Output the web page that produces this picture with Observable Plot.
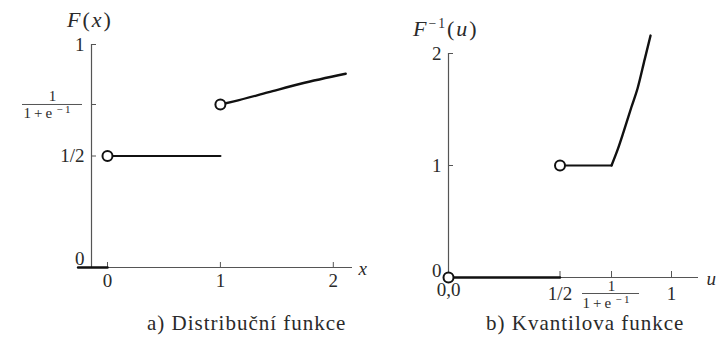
<!DOCTYPE html>
<html>
<head>
<meta charset="utf-8">
<script src="https://cdn.jsdelivr.net/npm/d3@7"></script>
<script src="https://cdn.jsdelivr.net/npm/@observablehq/plot@0.6"></script>
<style>
  body { margin: 0; background: #fff; }
  #fig { position: relative; width: 725px; height: 344px; font-family: "Liberation Serif", serif; color: #2a2a2a; overflow: hidden; }
  #fig svg { position: absolute; top: 0; }
  .lbl { position: absolute; white-space: nowrap; line-height: 1; }
  .lbl i { font-style: italic; }
  .lbl sup { font-size: 0.62em; vertical-align: 0.6em; line-height: 0; }
</style>
</head>
<body>
<div id="fig"></div>
<script>
// ---- a) distribution function F(x) ----
const cdfZeroX = [-0.26, 0];           // F = 0 left of 0
const cdfZeroY = [0, 0];
const cdfFlatX = [0, 1];               // F = 1/2 on [0, 1)
const cdfFlatY = [0.5, 0.5];
const cdfCurveX = [1, 1.12, 1.42, 1.71, 2.11];
const cdfCurveY = [0.731, 0.745, 0.785, 0.824, 0.869];
const cdfOpenX = [0, 1];
const cdfOpenY = [0.5, 0.731];
const cdfXTicks = [0, 1, 2];
const cdfXTickLabels = ["0", "1", "2"];
const cdfYTicks = [0.5, 1];
const cdfYTickLabels = ["1/2", "1"];
const cdfYTickFrac = [0.731];          // 1/(1+e^-1)

// ---- b) quantile function F^-1(u) ----
const qZeroX = [0, 0.5];               // F^-1 = 0 on (0, 1/2)
const qZeroY = [0, 0];
const qFlatX = [0.5, 0.731];           // F^-1 = 1 on (1/2, 1/(1+e^-1)]
const qFlatY = [1, 1];
const qCurveX = [0.731, 0.76, 0.785, 0.82, 0.848, 0.88, 0.906];
const qCurveY = [1, 1.15, 1.30, 1.52, 1.69, 1.95, 2.16];
const qOpenX = [0, 0.5];
const qOpenY = [0, 1];
const qXTicks = [0.5, 1];
const qXTickLabels = ["1/2", "1"];
const qXTickFrac = [0.731];
const qYTicks = [1, 2];
const qYTickLabels = ["1", "2"];

const fracDen = "1\u2009+\u2009e";     // denominator base, exponent drawn separately
const fracExp = "\u2212\u20091";

const ink = "#111";
const axisInk = "#555";
const textInk = "#2a2a2a";
const serif = "Liberation Serif, serif";
const tickFont = 19;
const fracFont = 15;

const fig = document.getElementById("fig");

function label(html, left, top, size, extra = "") {
  const d = document.createElement("div");
  d.className = "lbl";
  d.style.left = left + "px";
  d.style.top = top + "px";
  d.style.fontSize = size + "px";
  d.style.cssText += extra;
  d.innerHTML = html;
  fig.appendChild(d);
  return d;
}

const txt = (o) => ({fill: textInk, fontFamily: serif, fontSize: tickFont, ...o});

// Left panel: the y axis sits a little left of x = 0
const cdfYAxisAt = -0.1416;
const cdfXAxisEnd = 2.17;

const cdf = Plot.plot({
  width: 380,
  height: 344,
  marginLeft: 91, marginRight: 28, marginTop: 44, marginBottom: 77,
  x: {axis: null, domain: [cdfYAxisAt, cdfXAxisEnd], range: [91, 352]},
  y: {axis: null, domain: [0, 1], range: [267, 44]},
  style: {fontFamily: serif, color: textInk, background: "transparent"},
  marks: [
    // axes
    Plot.ruleY([0], {x1: cdfZeroX[0], x2: cdfXAxisEnd, stroke: axisInk, strokeWidth: 1.2}),
    Plot.ruleX([cdfYAxisAt], {y1: 0, y2: 1, stroke: axisInk, strokeWidth: 1.2}),
    Plot.ruleY([0, ...cdfYTickFrac, ...cdfYTicks], {y: d => d, x1: cdfYAxisAt, x2: cdfYAxisAt, insetRight: -5, stroke: axisInk}),
    Plot.ruleX(cdfXTicks, {x: d => d, y1: 0, y2: 0, insetTop: -5, stroke: axisInk}),
    // tick labels
    Plot.text(cdfXTicks, txt({x: d => d, y: 0, dy: 13, text: (d, i) => cdfXTickLabels[i]})),
    Plot.text(cdfYTicks, txt({x: cdfYAxisAt, y: d => d, dx: -7, text: (d, i) => cdfYTickLabels[i], textAnchor: "end"})),
    Plot.text([0], txt({x: cdfYAxisAt, y: d => d, dx: -7, dy: -9, text: () => "0", textAnchor: "end"})),
    Plot.text(cdfYTickFrac, txt({x: cdfYAxisAt, y: d => d, dx: -39, dy: -8, text: () => "1", fontSize: fracFont})),
    Plot.ruleY(cdfYTickFrac, {y: d => d, x1: cdfYAxisAt, x2: cdfYAxisAt, insetLeft: -69, insetRight: 9, stroke: textInk, strokeWidth: 0.8}),
    Plot.text(cdfYTickFrac, txt({x: cdfYAxisAt, y: d => d, dx: -68, dy: 9, text: () => fracDen, fontSize: fracFont, textAnchor: "start"})),
    Plot.text(cdfYTickFrac, txt({x: cdfYAxisAt, y: d => d, dx: -35, dy: 5, text: () => fracExp, fontSize: 11, textAnchor: "start"})),
    Plot.text([cdfXAxisEnd], txt({x: d => d, y: 0, dx: 6, dy: 1, text: () => "x", fontStyle: "italic", textAnchor: "start"})),
    // function
    Plot.line(cdfZeroX.map((x, i) => ({x, y: cdfZeroY[i]})), {x: "x", y: "y", stroke: ink, strokeWidth: 2.6}),
    Plot.line(cdfFlatX.map((x, i) => ({x, y: cdfFlatY[i]})), {x: "x", y: "y", stroke: ink, strokeWidth: 2.2}),
    Plot.line(cdfCurveX.map((x, i) => ({x, y: cdfCurveY[i]})), {x: "x", y: "y", stroke: ink, strokeWidth: 2.4, curve: "monotone-x"}),
    Plot.dot(cdfOpenX.map((x, i) => ({x, y: cdfOpenY[i]})), {x: "x", y: "y", r: 5, stroke: ink, strokeWidth: 2, fill: "white"})
  ]
});
cdf.style.left = "0px";
fig.appendChild(cdf);

// Right panel
const qXAxisEnd = 1.121;

const q = Plot.plot({
  width: 363,
  height: 344,
  marginLeft: 86, marginRight: 27, marginTop: 53, marginBottom: 67,
  x: {axis: null, domain: [0, qXAxisEnd], range: [86, 336]},
  y: {axis: null, domain: [0, 2], range: [277, 53]},
  style: {fontFamily: serif, color: textInk, background: "transparent"},
  marks: [
    Plot.ruleY([0], {x1: 0, x2: qXAxisEnd, stroke: axisInk, strokeWidth: 1.2}),
    Plot.ruleX([0], {y1: 0, y2: 2, stroke: axisInk, strokeWidth: 1.2}),
    Plot.ruleY(qYTicks, {y: d => d, x1: 0, x2: 0, insetRight: -5, stroke: axisInk}),
    Plot.ruleX([...qXTicks, ...qXTickFrac], {x: d => d, y1: 0, y2: 0, insetTop: -6, stroke: axisInk}),
    Plot.text(qXTicks, txt({x: d => d, y: 0, dy: 16, text: (d, i) => qXTickLabels[i]})),
    Plot.text([0], txt({x: d => d, y: 0, dy: 12, text: () => "0,0"})),
    Plot.text(qYTicks, txt({x: 0, y: d => d, dx: -7, text: (d, i) => qYTickLabels[i], textAnchor: "end"})),
    Plot.text([0], txt({x: 0, y: d => d, dx: -7, dy: -7, text: () => "0", textAnchor: "end"})),
    Plot.text(qXTickFrac, txt({x: d => d, y: 0, dy: 9, text: () => "1", fontSize: fracFont})),
    Plot.ruleY([0], {x1: qXTickFrac[0], x2: qXTickFrac[0], insetLeft: -29, insetRight: -28, dy: 16, stroke: textInk, strokeWidth: 0.8}),
    Plot.text(qXTickFrac, txt({x: d => d, y: 0, dx: -29, dy: 26, text: () => fracDen, fontSize: fracFont, textAnchor: "start"})),
    Plot.text(qXTickFrac, txt({x: d => d, y: 0, dx: 4, dy: 22, text: () => fracExp, fontSize: 11, textAnchor: "start"})),
    Plot.text([qXAxisEnd], txt({x: d => d, y: 0, dx: 8, dy: 1, text: () => "u", fontStyle: "italic", textAnchor: "start"})),
    Plot.line(qZeroX.map((x, i) => ({x, y: qZeroY[i]})), {x: "x", y: "y", stroke: ink, strokeWidth: 2.4}),
    Plot.line(qFlatX.map((x, i) => ({x, y: qFlatY[i]})), {x: "x", y: "y", stroke: ink, strokeWidth: 2.2}),
    Plot.line(qCurveX.map((x, i) => ({x, y: qCurveY[i]})), {x: "x", y: "y", stroke: ink, strokeWidth: 2.4, curve: "monotone-x"}),
    Plot.dot(qOpenX.map((x, i) => ({x, y: qOpenY[i]})), {x: "x", y: "y", r: 5, stroke: ink, strokeWidth: 2, fill: "white"})
  ]
});
q.style.left = "362px";
fig.appendChild(q);

// titles and captions
label("<i>F</i>(<i>x</i>)", 67, 9, 22, "letter-spacing:2px;");
label("<i>F</i><sup>\u22121</sup>(<i>u</i>)", 413, 18, 22, "letter-spacing:2px;");
label("a) Distribuční funkce", 147, 313, 21, "letter-spacing:1px;");
label("b) Kvantilova funkce", 486, 313, 21, "letter-spacing:1px;");
</script>
</body>
</html>
